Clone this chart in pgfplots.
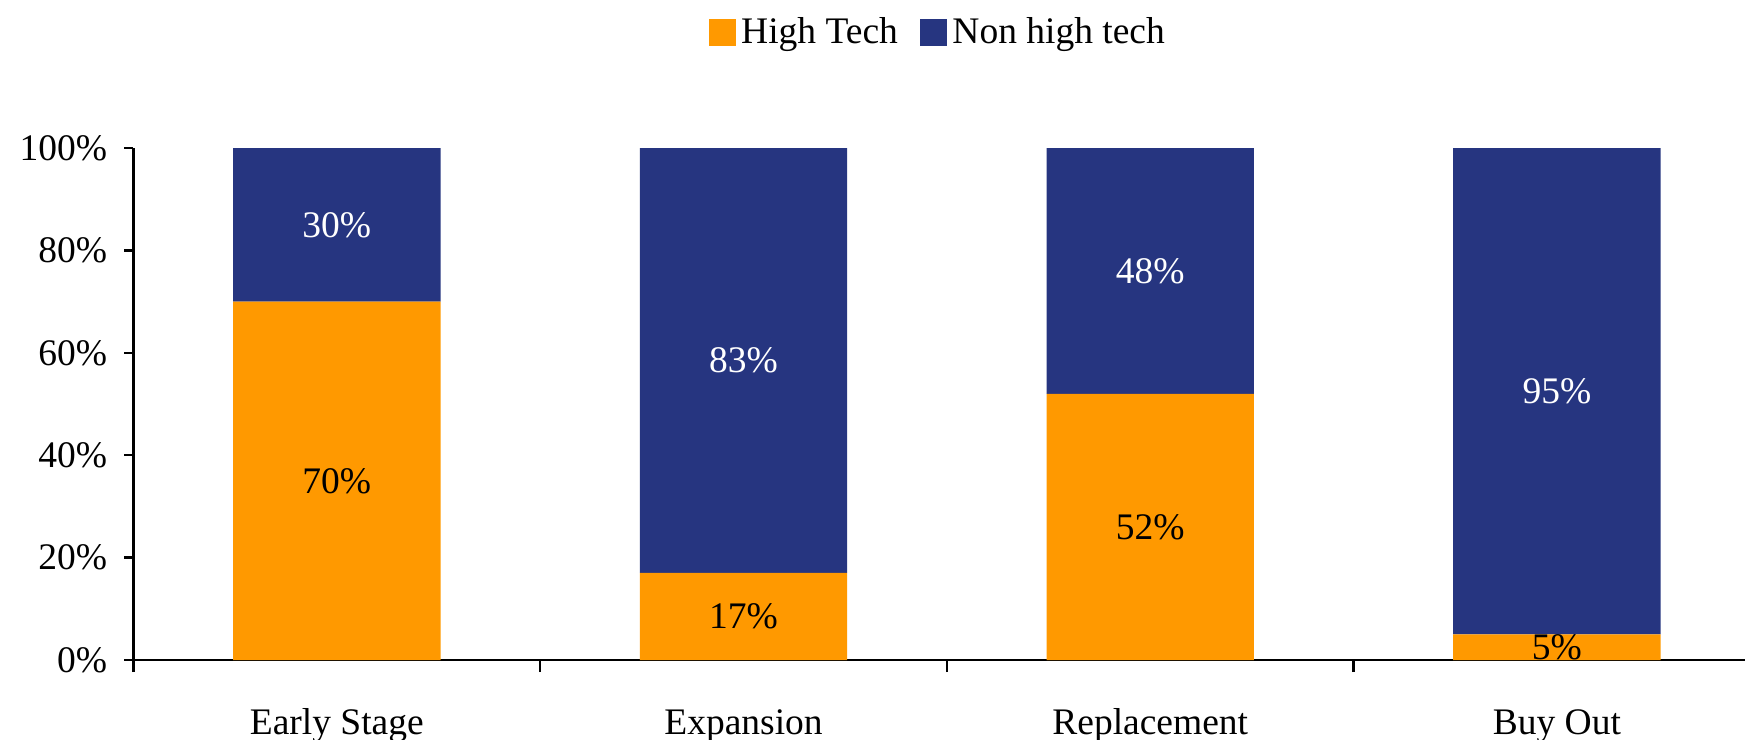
\documentclass[border=0pt]{standalone}
\usepackage{pgfplots}
\pgfplotsset{compat=1.18}
\usepackage{fontspec}
\setmainfont{Liberation Serif}
\definecolor{htorange}{RGB}{255,153,0}
\definecolor{nhnavy}{RGB}{38,53,128}
\pgfplotsset{sqlegend/.style={legend image code/.code={\draw[##1,draw=none] (-1pt,-5.2pt) rectangle (9.8pt,5.6pt);}}}
\begin{document}
\begin{tikzpicture}[font=\fontsize{15}{18}\selectfont]
\begin{axis}[
  scale only axis,
  width=650.7pt, height=204.8pt,
  xmin=-0.5, xmax=3.5, ymin=0, ymax=100,
  axis x line*=bottom, axis y line*=left,
  axis line style={-, line width=0.9pt, black},
  ybar stacked, bar width=0.51,
  xtick={0,1,2,3},
  xticklabels={Early Stage,Expansion,Replacement,Buy Out},
  major x tick style={draw=none},
  minor xtick={-0.5,0.5,1.5,2.5,3.5},
  minor x tick style={line width=0.9pt, black},
  ytick={0,20,40,60,80,100},
  yticklabels={0\%,20\%,40\%,60\%,80\%,100\%},
  y tick style={line width=0.9pt, black},
  tick align=outside,
  major tick length=3.6pt, minor tick length=4.8pt,
  xticklabel style={anchor=base, yshift=-26pt},
  yticklabel style={anchor=east, xshift=-3.4pt},
  legend columns=2,
  legend style={at={(0.4955,1.225)}, anchor=center, draw=none, fill=none,
    font=\fontsize{15}{18}\selectfont,
    /tikz/every even column/.append style={column sep=7pt}},
]
\coordinate (O) at (rel axis cs:0,0);
\addplot[fill=htorange, draw=none, sqlegend] coordinates {(0,70) (1,17) (2,52) (3,5)};
\addlegendentry{High Tech}
\addplot[fill=nhnavy, draw=none, sqlegend] coordinates {(0,30) (1,83) (2,48) (3,95)};
\addlegendentry{Non high tech}
\end{axis}
\begin{axis}[
  scale only axis,
  width=650.7pt, height=204.8pt,
  xmin=-0.5, xmax=3.5, ymin=0, ymax=100,
  hide axis,
  nodes near coords, point meta=explicit symbolic,
]
\addplot[only marks, mark=*, mark size=0pt, mark options={draw=none,fill=none},
  every node near coord/.append style={anchor=center, text=black, font=\fontsize{15}{18}\selectfont}]
  coordinates {(0,35)[70\%] (1,8.5)[17\%] (2,26)[52\%] (3,2.5)[5\%]};
\addplot[only marks, mark=*, mark size=0pt, mark options={draw=none,fill=none},
  every node near coord/.append style={anchor=center, text=white, font=\fontsize{15}{18}\selectfont}]
  coordinates {(0,85)[30\%] (1,58.5)[83\%] (2,76)[48\%] (3,52.5)[95\%]};
\end{axis}
\pgfresetboundingbox
\path (O) ++(-53.4pt,-31.6pt) rectangle ++(698pt,295.6pt);
\end{tikzpicture}
\end{document}
